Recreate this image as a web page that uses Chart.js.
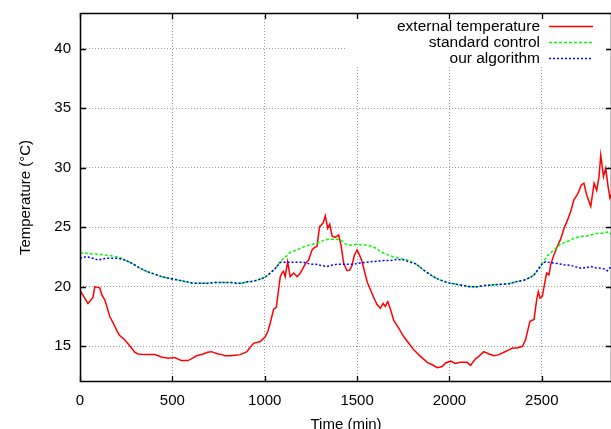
<!DOCTYPE html>
<html><head><meta charset="utf-8">
<script src="https://cdn.jsdelivr.net/npm/chart.js@4/dist/chart.umd.min.js"></script>
<style>html,body{margin:0;padding:0;overflow:hidden;background:#fff;width:611px;height:429px}canvas{display:block}</style>
</head><body><canvas id="c" width="612" height="429"></canvas>
<script>
const xTicks = [0, 500, 1000, 1500, 2000, 2500];
const yTicks = [15, 20, 25, 30, 35, 40];
const seriesLabels = ['external temperature', 'standard control', 'our algorithm'];

const extT = [0,20,43,60,70,80,95,107,119,134,150,161,175,188,200,215,242,269,296,314,350,405,441,477,513,549,585,610,631,667,690,712,730,748,770,784,813,840,867,904,920,940,976,1003,1018,1030,1048,1063,1075,1084,1095,1102,1111,1124,1138,1157,1175,1190,1202,1220,1238,1256,1270,1283,1297,1316,1328,1341,1352,1365,1382,1400,1413,1428,1446,1460,1473,1485,1500,1512,1525,1540,1555,1572,1590,1608,1626,1641,1653,1666,1681,1698,1726,1753,1780,1807,1843,1880,1907,1934,1961,1979,2006,2033,2060,2096,2114,2141,2159,2186,2214,2241,2268,2295,2322,2340,2367,2395,2412,2425,2436,2458,2472,2481,2490,2503,2512,2526,2539,2548,2566,2584,2602,2620,2639,2656,2674,2696,2714,2728,2743,2765,2783,2797,2810,2819,2834,2846,2859,2869,2880];
const extV = [19.7,19.2,18.6,18.9,19.1,20.0,19.95,19.9,19.3,18.9,18.1,17.5,17.1,16.7,16.3,15.9,15.55,15.05,14.5,14.35,14.3,14.3,14.1,14.0,14.05,13.8,13.8,14.0,14.2,14.35,14.5,14.55,14.45,14.35,14.3,14.2,14.2,14.25,14.3,14.55,14.9,15.25,15.4,15.8,16.3,16.95,18.1,18.3,19.75,20.85,21.2,21.3,20.85,22.1,20.85,21.15,20.85,21.1,21.4,21.95,22.25,23.1,23.3,23.4,25.05,25.35,25.95,24.9,25.25,24.25,24.15,24.35,23.5,21.95,21.35,21.4,21.8,22.65,23.1,22.7,22.2,21.3,20.4,19.75,19.1,18.5,18.2,18.6,18.35,18.75,18.1,17.2,16.5,15.8,15.25,14.7,14.15,13.65,13.45,13.2,13.3,13.6,13.75,13.55,13.65,13.65,13.4,13.95,14.15,14.55,14.35,14.2,14.3,14.5,14.7,14.85,14.85,15.0,15.55,16.4,17.1,17.25,18.9,19.6,19.05,19.2,20.0,21.15,21.0,21.85,22.7,23.4,24.0,24.9,25.6,26.3,27.3,27.85,28.55,28.7,27.7,26.75,28.7,28.1,29.25,31.05,29.25,29.95,28.4,27.45,27.85];

const stdT = [0,25,60,98,130,170,206,224,250,278,305,332,360,387,415,441,470,504,535,567,595,622,660,694,720,748,790,820,850,874,900,929,960,1001,1030,1055,1084,1102,1120,1138,1175,1211,1240,1265,1290,1319,1345,1364,1390,1409,1425,1446,1475,1500,1525,1554,1580,1608,1626,1663,1698,1730,1771,1807,1825,1861,1897,1930,1970,2005,2042,2078,2114,2150,2186,2230,2270,2322,2367,2403,2440,2458,2480,2503,2530,2566,2602,2639,2672,2711,2740,2765,2801,2830,2855,2880];
const stdV = [22.8,22.85,22.75,22.75,22.65,22.6,22.5,22.4,22.2,22.0,21.75,21.5,21.3,21.15,21.0,20.85,20.75,20.65,20.55,20.45,20.35,20.3,20.3,20.3,20.35,20.35,20.35,20.35,20.3,20.3,20.4,20.45,20.55,20.8,21.15,21.5,22.1,22.4,22.6,22.9,23.1,23.35,23.5,23.6,23.7,23.9,24.0,24.0,24.0,23.95,23.8,23.5,23.5,23.6,23.5,23.5,23.4,23.2,22.95,22.7,22.5,22.4,22.25,22.05,21.85,21.4,21.0,20.7,20.45,20.3,20.2,20.1,20.0,20.0,20.1,20.15,20.2,20.25,20.45,20.55,20.8,21.0,21.45,21.95,22.6,23.1,23.6,23.8,24.05,24.25,24.25,24.35,24.5,24.5,24.6,24.4];

const algT = [0,25,43,70,98,125,152,180,206,242,278,305,332,360,387,415,441,470,504,535,567,595,622,660,694,720,748,790,820,850,874,900,929,960,1001,1030,1055,1084,1120,1160,1211,1247,1275,1301,1337,1360,1392,1428,1482,1518,1572,1610,1644,1680,1717,1753,1789,1807,1825,1861,1897,1930,1970,2005,2042,2078,2114,2150,2186,2230,2270,2322,2367,2403,2440,2458,2480,2503,2520,2539,2584,2620,2656,2690,2711,2740,2765,2790,2819,2840,2855,2870,2880];
const algV = [22.4,22.5,22.5,22.4,22.25,22.35,22.4,22.4,22.4,22.25,22.0,21.75,21.5,21.3,21.15,21.0,20.85,20.75,20.65,20.55,20.45,20.35,20.3,20.3,20.3,20.35,20.35,20.35,20.35,20.3,20.3,20.4,20.45,20.55,20.8,21.15,21.5,22.05,22.05,22.05,22.05,21.9,21.9,21.8,21.7,21.8,21.9,21.9,21.9,22.0,22.1,22.15,22.2,22.2,22.3,22.25,22.05,22.0,21.85,21.4,21.0,20.7,20.45,20.3,20.2,20.1,20.0,20.0,20.1,20.15,20.2,20.25,20.45,20.55,20.8,21.0,21.45,21.95,22.1,22.05,21.95,21.85,21.8,21.65,21.55,21.6,21.7,21.6,21.55,21.5,21.35,21.6,21.5];

const FONT = '"Liberation Sans", Arial, sans-serif';
Chart.defaults.font.family = FONT;
Chart.defaults.font.size = 15;
Chart.defaults.color = '#000';

function pts(t, v) { return t.map((x, i) => ({ x: x, y: v[i] })); }

const framePlugin = {
  id: 'frame',
  afterDraw(chart) {
    const ctx = chart.ctx, a = chart.chartArea, xs = chart.scales.x, ys = chart.scales.y;
    ctx.save();
    // opaque key box
    ctx.fillStyle = '#fff';
    ctx.fillRect(345, a.top, a.right - 345, 53);
    ctx.font = '15.5px ' + FONT;
    ctx.textAlign = 'right';
    ctx.textBaseline = 'middle';
    chart.data.datasets.forEach((ds, i) => {
      const yy = 26 + i * 16;
      ctx.fillStyle = '#000';
      ctx.fillText(ds.label, 540, yy + 1);
      ctx.strokeStyle = ds.borderColor;
      ctx.lineWidth = ds.borderWidth;
      ctx.setLineDash(ds.borderDash || []);
      ctx.beginPath();
      ctx.moveTo(549, yy + 0.5);
      ctx.lineTo(593, yy + 0.5);
      ctx.stroke();
    });
    ctx.setLineDash([]);
    // inward ticks (bottom/top, left/right)
    ctx.strokeStyle = '#000';
    ctx.lineWidth = 1.3;
    ctx.beginPath();
    xTicks.forEach(v => {
      const px = Math.round(xs.getPixelForValue(v)) + 0.5;
      ctx.moveTo(px, a.bottom); ctx.lineTo(px, a.bottom - 6);
      ctx.moveTo(px, a.top); ctx.lineTo(px, a.top + 6);
    });
    yTicks.forEach(v => {
      const py = Math.round(ys.getPixelForValue(v)) + 0.5;
      ctx.moveTo(a.left, py); ctx.lineTo(a.left + 6, py);
      ctx.moveTo(a.right, py); ctx.lineTo(a.right - 6, py);
    });
    ctx.stroke();
    // border frame
    ctx.lineWidth = 1.5;
    ctx.strokeRect(a.left + 0.5, a.top + 0.5, a.right - a.left - 1, a.bottom - a.top - 1);
    ctx.restore();
  }
};

new Chart(document.getElementById('c'), {
  type: 'line',
  data: {
    datasets: [
      { label: seriesLabels[0], data: pts(extT, extV), borderColor: '#ff0000', borderWidth: 1.5, borderDash: [], order: 3 },
      { label: seriesLabels[1], data: pts(stdT, stdV), borderColor: '#00ff00', borderWidth: 1.5, borderDash: [3, 2], order: 2 },
      { label: seriesLabels[2], data: pts(algT, algV), borderColor: '#0000ff', borderWidth: 1.5, borderDash: [2, 2], order: 1 }
    ]
  },
  options: {
    responsive: false,
    animation: false,
    devicePixelRatio: 1,
    layout: { padding: { top: 13, right: 0, left: 0, bottom: 0 } },
    elements: { point: { radius: 0 }, line: { tension: 0, fill: false } },
    plugins: { legend: { display: false }, tooltip: { enabled: false } },
    scales: {
      x: {
        type: 'linear', min: 0, max: 2880,
        afterBuildTicks: s => { s.ticks = xTicks.map(v => ({ value: v })); },
        afterFit: s => { s.height = 47; s.paddingLeft = 0; s.paddingRight = 0; },
        ticks: { padding: 10, font: { size: 15 }, callback: v => String(v) },
        grid: { color: '#999', lineWidth: 1, drawTicks: false },
        border: { display: false, dash: [1, 2] },
        title: { display: true, text: 'Time (min)', font: { size: 15, lineHeight: 1 }, padding: { top: 0, bottom: -3 } }
      },
      y: {
        type: 'linear', min: 12, max: 43,
        afterBuildTicks: s => { s.ticks = yTicks.map(v => ({ value: v })); },
        afterFit: s => { s.width = 80; s.paddingTop = 0; s.paddingBottom = 0; },
        ticks: { padding: 9, font: { size: 15 }, callback: v => String(v) },
        grid: { color: '#999', lineWidth: 1, drawTicks: false },
        border: { display: false, dash: [1, 2] },
        title: { display: true, text: 'Temperature (°C)', font: { size: 15, lineHeight: 1.2 }, padding: { top: 17, bottom: 0 } }
      }
    }
  },
  plugins: [framePlugin]
});
</script>
</body></html>
